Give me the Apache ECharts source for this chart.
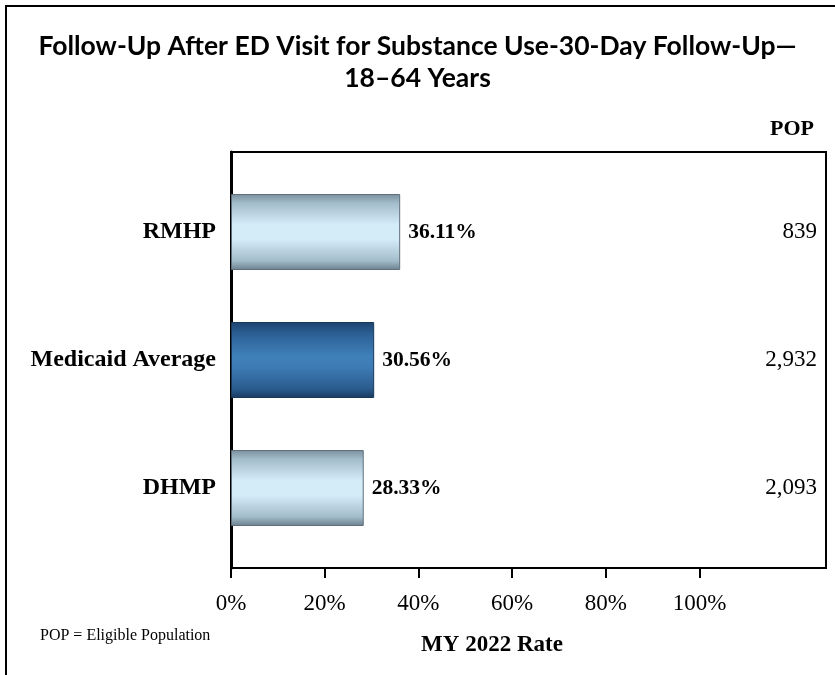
<!DOCTYPE html>
<html>
<head>
<meta charset="utf-8">
<script src="https://cdn.jsdelivr.net/npm/echarts@6/dist/echarts.min.js"></script>
<style>
html,body{margin:0;padding:0;background:#fff;}
#chart{width:835px;height:675px;}
</style>
</head>
<body>
<div id="chart"></div>
<script>
// ---- data ----
const categories = ['RMHP', 'Medicaid Average', 'DHMP'];
const rates = [36.11, 30.56, 28.33];
const pops = [839, 2932, 2093];
const highlight = 'Medicaid Average';
const tickValues = [0, 20, 40, 60, 80, 100];
const axisMax = 127;
const titleText = 'Follow-Up After ED Visit for Substance Use-30-Day Follow-Up\u2014\n18\u201364 Years';
const xAxisTitle = 'MY 2022 Rate';
const popHeader = 'POP';
const footnote = 'POP = Eligible Population';

const serif = '"Liberation Serif","Times New Roman",serif';

function grad(stops) {
  return new echarts.graphic.LinearGradient(0, 0, 0, 1, stops.map(s => ({offset: s[0], color: s[1]})));
}
const lightGrad = () => grad([[0,'#7b8f9c'],[0.12,'#a3bccb'],[0.4,'#d4ebf8'],[0.6,'#d4ebf8'],[0.88,'#a3bccb'],[1,'#6c7f8c']]);
const darkGrad = () => grad([[0,'#1b436e'],[0.15,'#2b5f93'],[0.45,'#4080ba'],[0.6,'#3d7bb4'],[0.88,'#2a5b8d'],[1,'#183a5f']]);

const chart = echarts.init(document.getElementById('chart'), null, {renderer: 'canvas'});

const option = {
  backgroundColor: '#fff',
  animation: false,
  title: [
    {
      text: titleText, left: 'center', top: 30, padding: 0,
      textStyle: {fontFamily: 'Lato', fontWeight: 'bold', fontSize: 26.5, lineHeight: 32, color: '#000'}
    },
    {
      text: popHeader, right: 21, top: 116, padding: 0,
      textStyle: {fontFamily: serif, fontWeight: 'bold', fontSize: 22, lineHeight: 26, color: '#000'}
    },
    {
      text: xAxisTitle, left: 492, textAlign: 'center', top: 631, padding: 0,
      textStyle: {fontFamily: serif, fontWeight: 'bold', fontSize: 23, lineHeight: 28, color: '#000'}
    },
    {
      text: footnote, left: 40, top: 626, padding: 0,
      textStyle: {fontFamily: serif, fontWeight: 'normal', fontSize: 16, lineHeight: 20, color: '#000'}
    }
  ],
  graphic: [
    {
      type: 'polyline', silent: true,
      shape: {points: [[6, 675], [6, 6], [835, 6]]},
      style: {stroke: '#000', lineWidth: 2, fill: null}
    }
  ],
  grid: [
    {left: 231, right: 9, top: 168, bottom: 123, containLabel: false},
    {left: 231, right: 9, top: 152, bottom: 107, show: true, borderColor: '#000', borderWidth: 2, backgroundColor: 'transparent'}
  ],
  xAxis: [
    {type: 'value', gridIndex: 0, min: 0, max: axisMax, show: false},
    {
      type: 'value', gridIndex: 1, min: 0, max: axisMax, interval: 20,
      axisLine: {show: false},
      splitLine: {show: false},
      axisTick: {show: true, inside: false, length: 10, lineStyle: {color: '#000', width: 2}, customValues: tickValues},
      axisLabel: {
        show: true, margin: 24, customValues: tickValues,
        formatter: v => v + '%',
        fontFamily: serif, fontSize: 23, color: '#000'
      }
    }
  ],
  yAxis: [
    {
      type: 'category', gridIndex: 0, data: categories, inverse: true,
      axisLine: {show: false}, axisTick: {show: false}, splitLine: {show: false},
      axisLabel: {margin: 15, fontFamily: serif, fontWeight: 'bold', fontSize: 24, color: '#000'}
    },
    {
      type: 'category', gridIndex: 0, data: categories, inverse: true, position: 'right',
      axisLine: {show: false}, axisTick: {show: false}, splitLine: {show: false},
      axisLabel: {
        inside: true, margin: 9, fontFamily: serif, fontSize: 23, color: '#000',
        formatter: (v, i) => pops[i].toLocaleString('en-US')
      }
    },
    {
      type: 'value', gridIndex: 1, min: 0, max: 1,
      axisLine: {show: true, lineStyle: {color: '#000', width: 3}},
      axisTick: {show: false}, axisLabel: {show: false}, splitLine: {show: false}
    }
  ],
  series: [
    {
      type: 'bar', xAxisIndex: 0, yAxisIndex: 0,
      barWidth: 76,
      data: rates.map((r, i) => ({
        value: r,
        itemStyle: categories[i] === highlight
          ? {color: darkGrad(), borderColor: '#1a3858', borderWidth: 1}
          : {color: lightGrad(), borderColor: '#5f707c', borderWidth: 1}
      })),
      label: {
        show: true, position: 'right', distance: 8,
        formatter: p => p.value.toFixed(2) + '%',
        fontFamily: serif, fontWeight: 'bold', fontSize: 21.5, color: '#000'
      }
    }
  ]
};
chart.setOption(option);
</script>
</body>
</html>
